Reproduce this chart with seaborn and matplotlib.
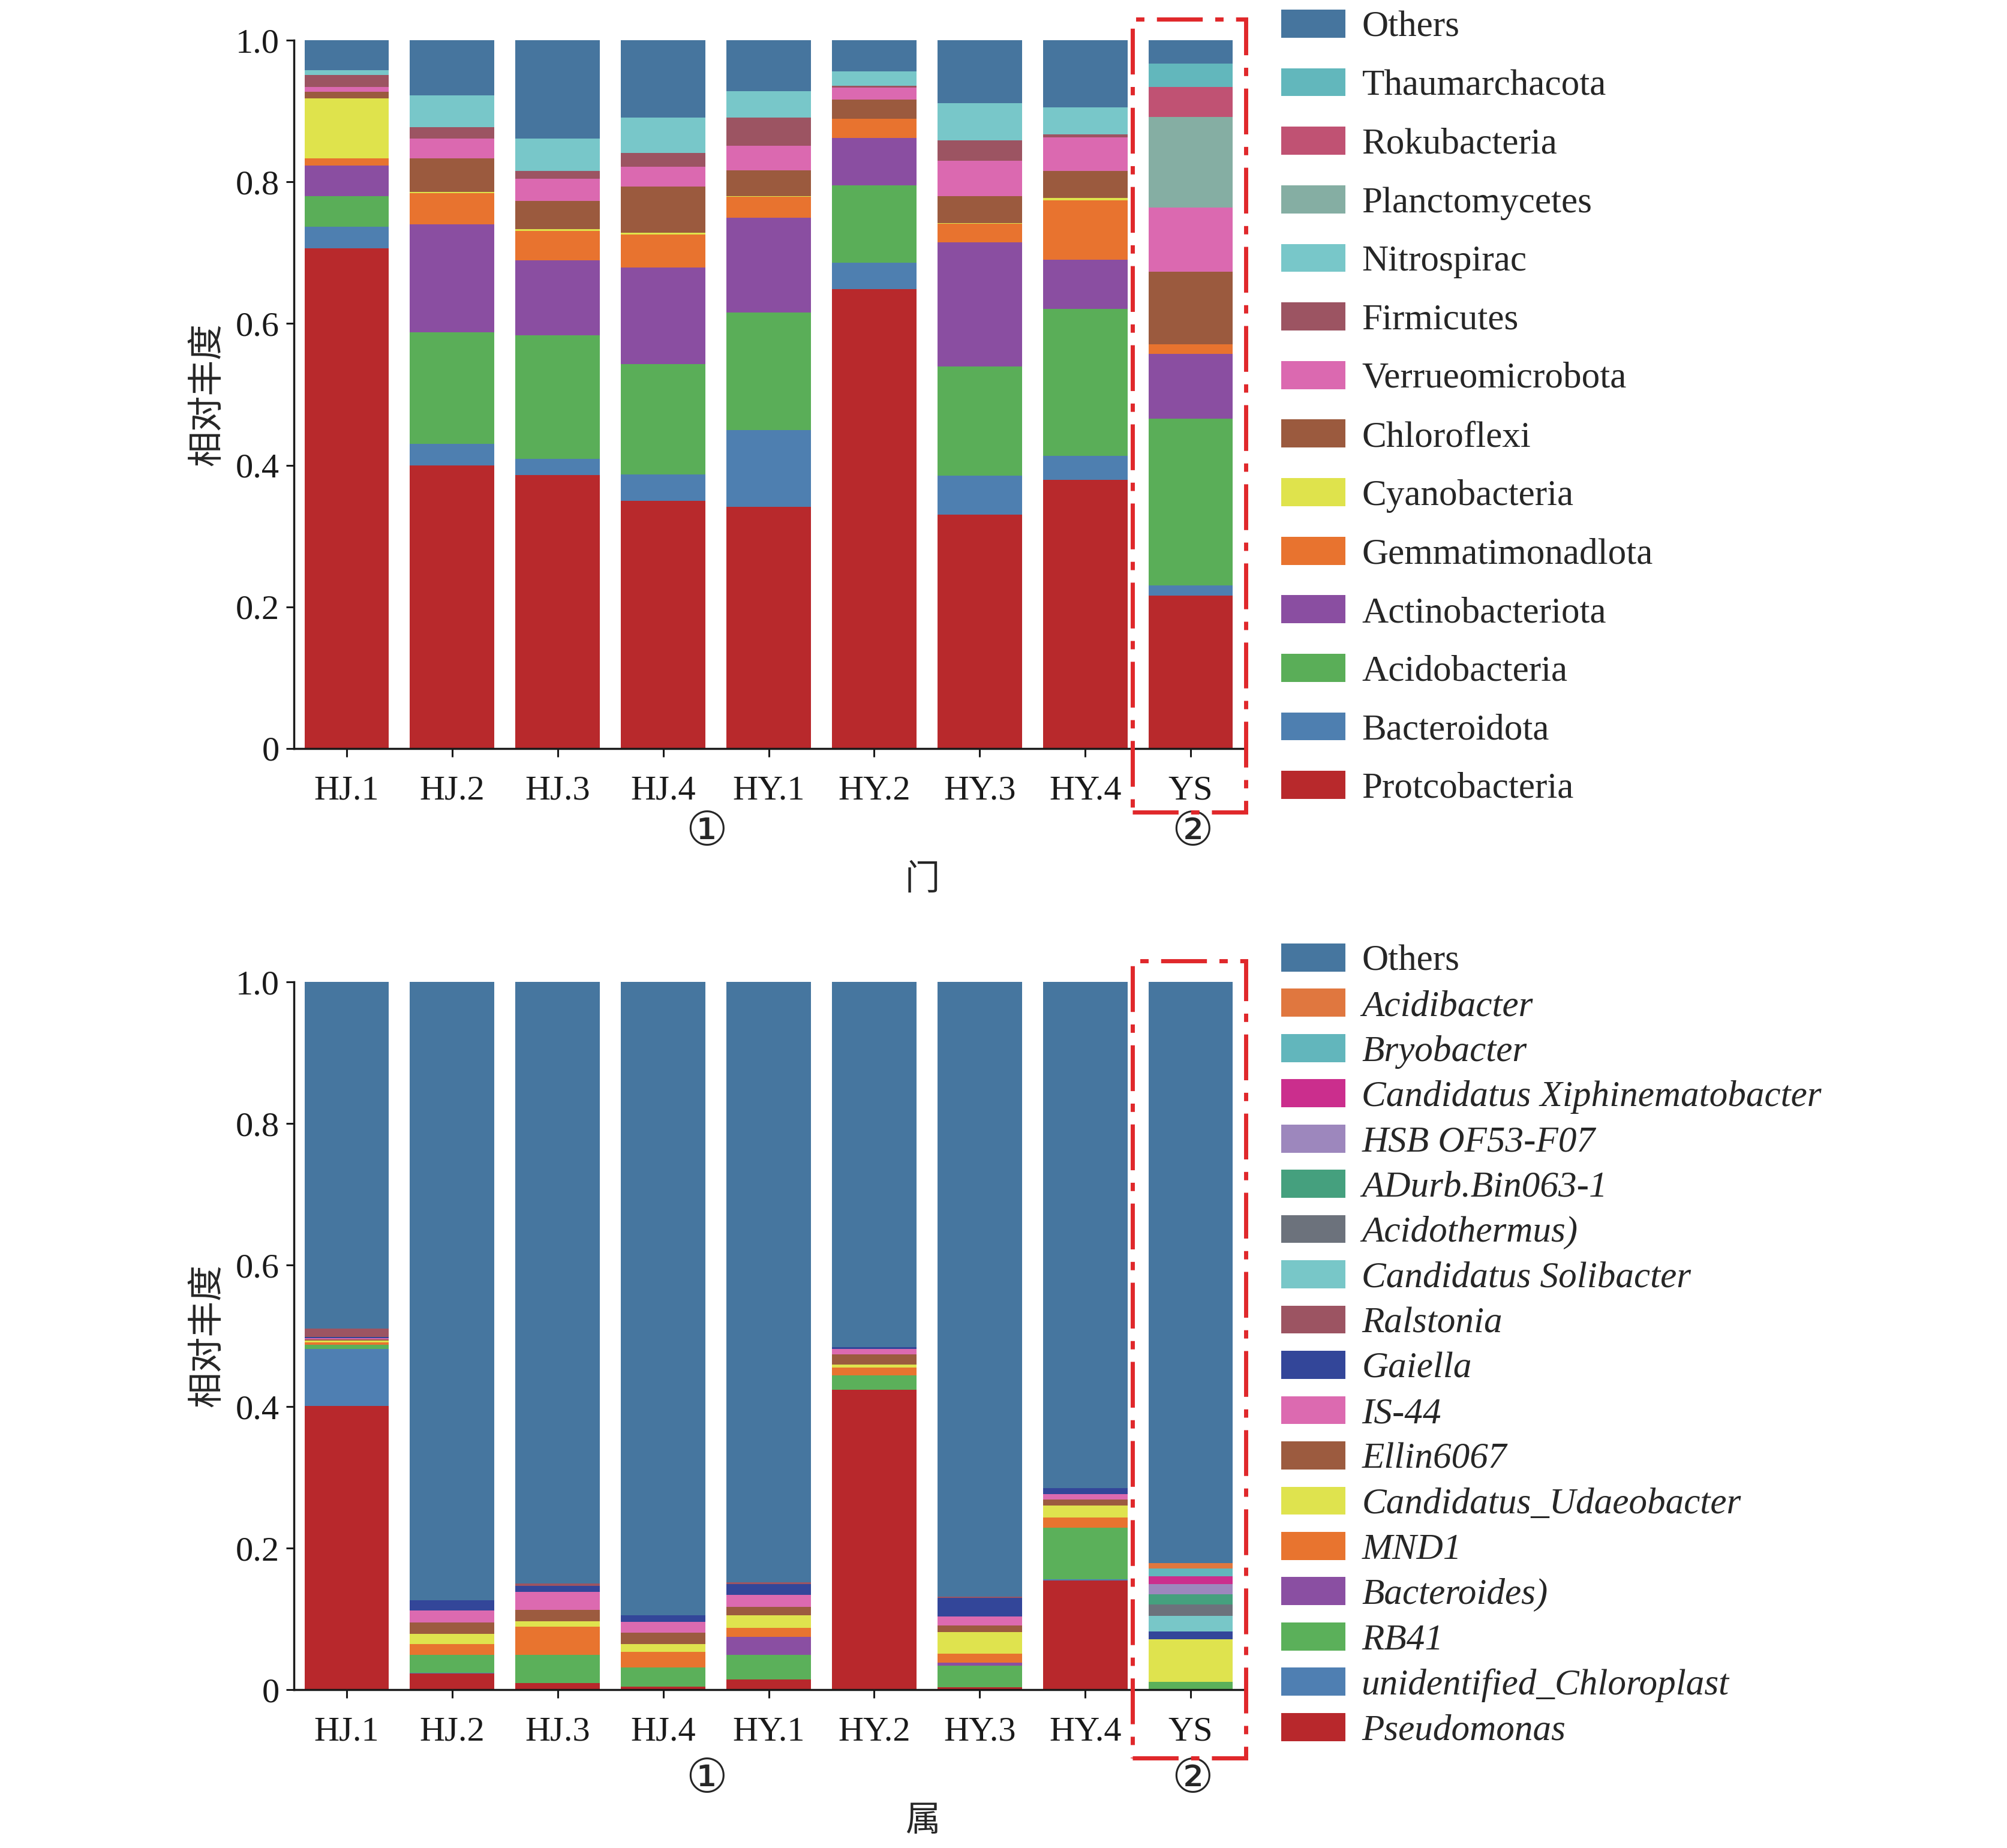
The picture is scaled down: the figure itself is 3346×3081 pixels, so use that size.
import numpy as np
import pandas as pd
import matplotlib
matplotlib.use("Agg")
import matplotlib.pyplot as plt
from matplotlib.patches import Patch, Rectangle
import seaborn as sns

# samples on the x axis
samples = ["HJ.1", "HJ.2", "HJ.3", "HJ.4", "HY.1", "HY.2", "HY.3", "HY.4", "YS"]

# ---- phylum level (top panel), listed bottom -> top of the stack ----
phylum_names = ["Protcobacteria", "Bacteroidota", "Acidobacteria", "Actinobacteriota",
                "Gemmatimonadlota", "Cyanobacteria", "Chloroflexi", "Verrueomicrobota",
                "Firmicutes", "Nitrospirac", "Planctomycetes", "Rokubacteria",
                "Thaumarchacota", "Others"]
phylum_colors = ["#b8292c", "#4e7fb0", "#5aae58", "#8a4ea1", "#e8732f", "#dfe34c",
                 "#9b5a3e", "#db69b0", "#9c5462", "#78c7c9", "#85aea3", "#c05273",
                 "#62b7bc", "#46759e"]
protcobacteria = [0.706, 0.400, 0.386, 0.350, 0.341, 0.649, 0.330, 0.379, 0.216]
bacteroidota = [0.031, 0.030, 0.023, 0.037, 0.109, 0.037, 0.055, 0.034, 0.014]
acidobacteria = [0.043, 0.158, 0.174, 0.156, 0.166, 0.109, 0.154, 0.208, 0.236]
actinobacteriota = [0.043, 0.152, 0.106, 0.136, 0.133, 0.067, 0.176, 0.069, 0.091]
gemmatimonadlota = [0.010, 0.044, 0.042, 0.047, 0.030, 0.027, 0.026, 0.084, 0.014]
cyanobacteria = [0.085, 0.002, 0.002, 0.002, 0.001, 0.000, 0.001, 0.003, 0.000]
chloroflexi = [0.009, 0.047, 0.040, 0.065, 0.036, 0.027, 0.038, 0.038, 0.102]
verrueomicrobota = [0.007, 0.028, 0.031, 0.028, 0.035, 0.017, 0.050, 0.048, 0.091]
firmicutes = [0.017, 0.016, 0.011, 0.020, 0.040, 0.003, 0.029, 0.004, 0.000]
nitrospirac = [0.007, 0.045, 0.046, 0.050, 0.037, 0.020, 0.052, 0.038, 0.000]
planctomycetes = [0.0, 0.0, 0.0, 0.0, 0.0, 0.0, 0.0, 0.0, 0.128]
rokubacteria = [0.0, 0.0, 0.0, 0.0, 0.0, 0.0, 0.0, 0.0, 0.042]
thaumarchacota = [0.0, 0.0, 0.0, 0.0, 0.0, 0.0, 0.0, 0.0, 0.033]
phylum_others = [0.042, 0.078, 0.139, 0.109, 0.072, 0.044, 0.089, 0.095, 0.033]
phylum_values = [protcobacteria, bacteroidota, acidobacteria, actinobacteriota,
                 gemmatimonadlota, cyanobacteria, chloroflexi, verrueomicrobota,
                 firmicutes, nitrospirac, planctomycetes, rokubacteria,
                 thaumarchacota, phylum_others]

# ---- genus level (bottom panel), listed bottom -> top of the stack ----
genus_names = ["Pseudomonas", "unidentified_Chloroplast", "RB41", "Bacteroides)",
               "MND1", "Candidatus_Udaeobacter", "Ellin6067", "IS-44", "Gaiella",
               "Ralstonia", "Candidatus Solibacter", "Acidothermus)", "ADurb.Bin063-1",
               "HSB OF53-F07", "Candidatus Xiphinematobacter", "Bryobacter",
               "Acidibacter", "Others"]
genus_colors = ["#b8282c", "#4f7fb2", "#5bb05a", "#8a4fa2", "#e8742f", "#dfe34e",
                "#9c5b3f", "#dc6ab0", "#334699", "#9c5462", "#78c7c8", "#6c727c",
                "#45a07e", "#9d87bd", "#cb2e8d", "#62b6bc", "#e0773f", "#46769f"]
pseudomonas = [0.401, 0.0225, 0.009, 0.0045, 0.014, 0.424, 0.003, 0.154, 0.0]
chloroplast = [0.080, 0.001, 0.0, 0.0, 0.0, 0.0, 0.0, 0.002, 0.0]
rb41 = [0.006, 0.026, 0.040, 0.027, 0.035, 0.020, 0.031, 0.073, 0.011]
bacteroides = [0.0, 0.0, 0.0, 0.0, 0.026, 0.0, 0.004, 0.0, 0.0]
mnd1 = [0.004, 0.0145, 0.040, 0.022, 0.012, 0.011, 0.013, 0.014, 0.0]
udaeobacter = [0.002, 0.0145, 0.008, 0.011, 0.018, 0.004, 0.030, 0.017, 0.060]
ellin6067 = [0.002, 0.016, 0.016, 0.016, 0.012, 0.015, 0.010, 0.009, 0.0]
is44 = [0.002, 0.0175, 0.025, 0.015, 0.017, 0.007, 0.012, 0.007, 0.0]
gaiella = [0.001, 0.014, 0.009, 0.010, 0.015, 0.003, 0.027, 0.009, 0.011]
ralstonia = [0.012, 0.0, 0.003, 0.0, 0.0025, 0.0, 0.0015, 0.0, 0.0]
solibacter = [0.0, 0.0, 0.0, 0.0, 0.0, 0.0, 0.0, 0.0, 0.022]
acidothermus = [0.0, 0.0, 0.0, 0.0, 0.0, 0.0, 0.0, 0.0, 0.016]
adurb = [0.0, 0.0, 0.0, 0.0, 0.0, 0.0, 0.0, 0.0, 0.015]
hsb = [0.0, 0.0, 0.0, 0.0, 0.0, 0.0, 0.0, 0.0, 0.014]
xiphinematobacter = [0.0, 0.0, 0.0, 0.0, 0.0, 0.0, 0.0, 0.0, 0.0115]
bryobacter = [0.0, 0.0, 0.0, 0.0, 0.0, 0.0, 0.0, 0.0, 0.0105]
acidibacter = [0.0, 0.0, 0.0, 0.0, 0.0, 0.0, 0.0, 0.0, 0.0075]
genus_others = [0.490, 0.874, 0.850, 0.8945, 0.8485, 0.516, 0.8685, 0.715, 0.8215]
genus_values = [pseudomonas, chloroplast, rb41, bacteroides, mnd1, udaeobacter,
                ellin6067, is44, gaiella, ralstonia, solibacter, acidothermus, adurb,
                hsb, xiphinematobacter, bryobacter, acidibacter, genus_others]

W, H = 3346, 3081
FS = 42
LEG_FS = 44
RED = "#e0282b"


def stacked_bars(ax, names, colors, values):
    """Stacked bars drawn with seaborn: tallest cumulative layer first."""
    df = pd.DataFrame(values, index=names, columns=samples).T
    cum = df.cumsum(axis=1)
    for name, color in reversed(list(zip(names, colors))):
        sns.barplot(x=samples, y=cum[name].values, order=samples, color=color,
                    saturation=1, width=0.8, linewidth=0, ax=ax)


def style_axes(ax):
    ax.set_xlim(-0.5, 8.5)
    ax.set_ylim(0, 1.0)
    ax.set_yticks([0, 0.2, 0.4, 0.6, 0.8, 1.0])
    ax.set_yticklabels(["0", "0.2", "0.4", "0.6", "0.8", "1.0"])
    ax.set_xlabel("")
    ax.set_ylabel("相对丰度", fontsize=FS + 1, family=["Noto Sans CJK SC"])
    ax.yaxis.set_label_coords(-0.072, 0.5)
    for s in ["top", "right"]:
        ax.spines[s].set_visible(False)
    for s in ["left", "bottom"]:
        ax.spines[s].set_linewidth(2.5)
        ax.spines[s].set_color("#1a1a1a")
    ax.tick_params(axis="y", direction="out", length=9.5, width=2.2, pad=8,
                   labelsize=FS, colors="#1a1a1a")
    ax.tick_params(axis="x", direction="out", length=10, width=2.2, pad=22,
                   labelsize=FS, colors="#1a1a1a")


def annotate(ax, title, y_circle, y_title, box_bottom):
    ax.text(3.41, y_circle, "①", ha="center", va="center", fontsize=56,
            family=["DejaVu Serif", "DejaVu Sans"])
    ax.text(8.02, y_circle, "②", ha="center", va="center", fontsize=56,
            family=["DejaVu Serif", "DejaVu Sans"])
    ax.text(5.46, y_title, title, ha="center", va="center", fontsize=FS,
            family=["Noto Sans CJK SC"])
    box = Rectangle((7.45, box_bottom), 1.07, 1.03 - box_bottom, fill=False,
                    edgecolor=RED, linewidth=5, linestyle=(0, (11, 3, 2, 3)),
                    clip_on=False, zorder=5)
    ax.add_patch(box)


sns.set_style("ticks")
plt.rcParams["font.family"] = ["Liberation Serif", "Noto Sans CJK SC", "DejaVu Sans"]

fig = plt.figure(figsize=(W / 100, H / 100), dpi=100)
ax1 = fig.add_axes([490 / W, 1 - 1248 / H, 1583 / W, 1181 / H])
ax2 = fig.add_axes([490 / W, 1 - 2817 / H, 1583 / W, 1180 / H])

stacked_bars(ax1, phylum_names, phylum_colors, phylum_values)
style_axes(ax1)
annotate(ax1, "门", -0.118, -0.185, -0.09)

stacked_bars(ax2, genus_names, genus_colors, genus_values)
style_axes(ax2)
annotate(ax2, "属", -0.126, -0.185, -0.097)

# legends, listed top -> bottom like the reference
h1 = [Patch(facecolor=c, edgecolor="none") for c in reversed(phylum_colors)]
leg1 = fig.legend(h1, list(reversed(phylum_names)), loc="upper left",
                  bbox_to_anchor=(2136 / W, 1 - 16 / H), frameon=False,
                  fontsize=LEG_FS, handlelength=1.75, handleheight=0.8,
                  handletextpad=0.45, labelspacing=0.655, borderaxespad=0, borderpad=0)

h2 = [Patch(facecolor=c, edgecolor="none") for c in reversed(genus_colors)]
leg2 = fig.legend(h2, list(reversed(genus_names)), loc="upper left",
                  bbox_to_anchor=(2136 / W, 1 - 1573 / H), frameon=False,
                  fontsize=LEG_FS, handlelength=1.75, handleheight=0.8,
                  handletextpad=0.45, labelspacing=0.292, borderaxespad=0, borderpad=0)
for t in leg2.get_texts()[1:]:
    t.set_fontstyle("italic")

fig.savefig("out.png", dpi=100)
